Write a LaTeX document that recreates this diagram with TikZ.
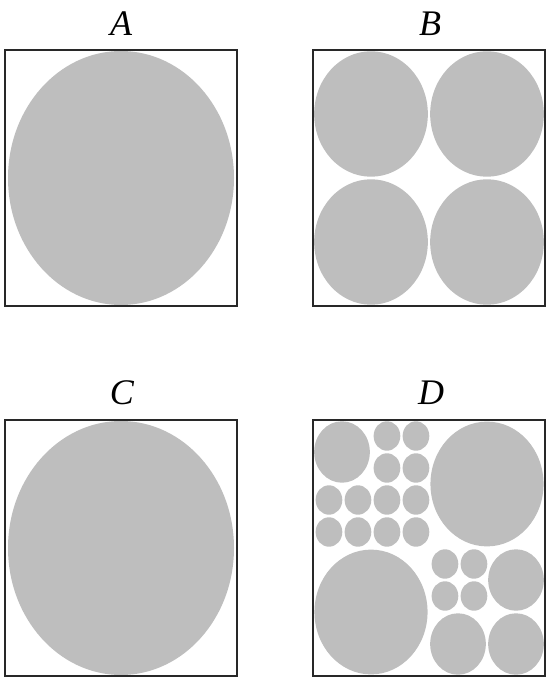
\documentclass[tikz,border=0pt]{standalone}
\usepackage{fontspec}
\setmainfont{Liberation Serif}
\definecolor{circgray}{RGB}{190,190,190}
\definecolor{boxline}{RGB}{40,40,40}
\begin{document}
\begin{tikzpicture}[x=1pt,y=-1pt,
  panelbox/.style={draw=boxline,line width=2pt},
  disc/.style={fill=circgray},
  lbl/.style={anchor=base,inner sep=0pt,font=\fontsize{36}{42}\selectfont\itshape}]
\useasboundingbox (0,0) rectangle (547,684);
% labels
\node[lbl] (la) at (121,36) {A};
\node[lbl] (lb) at (430,36) {B};
\node[lbl] (lc) at (122,404) {C};
\node[lbl] (ld) at (431,404) {D};
% Panel A
\fill[disc] (121,178) ellipse [x radius=113, y radius=127];
\draw[panelbox] (5,50) rectangle (237,306);
% Panel B
\begin{scope}[shift={(313,50)},x=29pt,y=-32pt]
  \foreach \cx/\cy in {2/2,6/2,2/6,6/6}
    \fill[disc] (\cx,\cy) circle [radius=1.96];
\end{scope}
\draw[panelbox] (313,50) rectangle (545,306);
% Panel C
\fill[disc] (121,548) ellipse [x radius=113, y radius=127];
\draw[panelbox] (5,420) rectangle (237,676);
% Panel D
\begin{scope}[shift={(313,420)},x=29pt,y=-32pt]
  % big
  \foreach \cx/\cy in {6/2,2/6}
    \fill[disc] (\cx,\cy) circle [radius=1.95];
  % medium
  \foreach \cx/\cy in {1/1,7/5,5/7,7/7}
    \fill[disc] (\cx,\cy) circle [radius=0.96];
  % small
  \foreach \cx/\cy in {2.5/0.5,3.5/0.5,2.5/1.5,3.5/1.5,
                       0.5/2.5,1.5/2.5,2.5/2.5,3.5/2.5,
                       0.5/3.5,1.5/3.5,2.5/3.5,3.5/3.5,
                       4.5/4.5,5.5/4.5,4.5/5.5,5.5/5.5}
    \fill[disc] (\cx+0.05,\cy) circle [radius=0.46];
\end{scope}
\draw[panelbox] (313,420) rectangle (545,676);
\end{tikzpicture}
\end{document}
